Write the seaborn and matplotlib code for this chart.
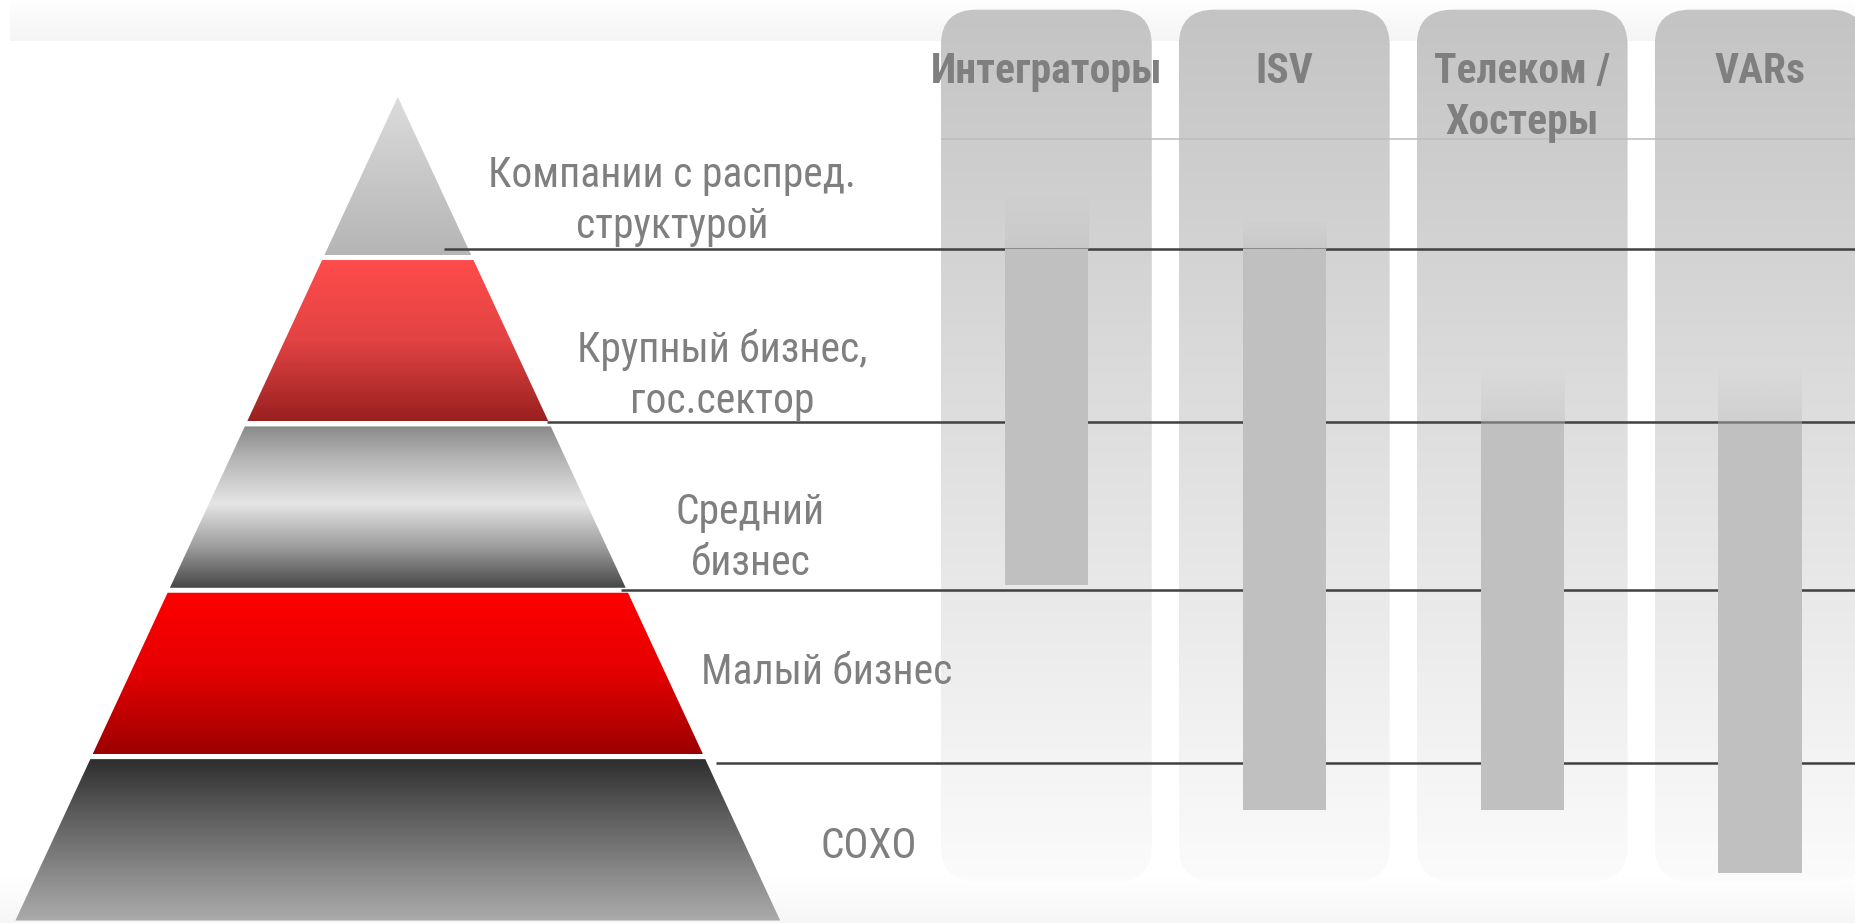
import numpy as np
import matplotlib
matplotlib.use("Agg")
import matplotlib.pyplot as plt
from matplotlib import font_manager
from matplotlib.colors import LinearSegmentedColormap, to_rgba
from matplotlib.patches import Polygon, FancyBboxPatch
import seaborn as sns
import pandas as pd

# ---------------- data ----------------
segments = ["Компании с распред.\nструктурой", "Крупный бизнес,\nгос.сектор",
            "Средний\nбизнес", "Малый бизнес", "СОХО"]
channels = ["Интеграторы", "ISV", "Телеком /\nХостеры", "VARs"]
# coverage of each channel along the segment axis (0 = pyramid top, 5 = pyramid base)
cover_from = [0.95, 0.95, 2.0, 2.0]
cover_to = [2.97, 4.32, 4.32, 4.70]
fade_from = [0.63, 0.78, 1.66, 1.66]

# ---------------- layout / style ----------------
label_x = [-1.572, -1.363, -1.244, -0.923, -0.746]
label_base = [0.576, 1.629, 2.603, 3.563, 4.609]
divider_y = [0.95, 1.99, 3.0, 4.04]
divider_x0 = [-2.532, -2.100, -1.786, -1.388]
level_grad = [
    ["#dcdcdc", "#c8c8c8", "#b5b5b5"],
    ["#ff4c4c", "#e24343", "#9a2020"],
    [(0, "#8a8a8a"), (0.2, "#b5b5b5"), (0.48, "#e5e5e5"), (0.75, "#9c9c9c"), (1, "#474747")],
    ["#ff0000", "#e40000", "#9c0000"],
    [(0, "#2e2e2e"), (0.35, "#5e5e5e"), (0.7, "#888888"), (1, "#ababab")],
]
TEXT_C = "#7f7f7f"
LINE_STEP = 0.306

X0, X1 = -4.398, 3.403
Y_TOP, Y_BOT = -0.548, 5.0
APEX_X, APEX_Y, SLOPE = -2.726, 0.035, 0.3247
GAP = 0.03

sns.set_theme(style="white")

# pick a condensed sans family if one is installed
names = {f.name for f in font_manager.fontManager.ttflist}
condensed = [f for f in ["Liberation Sans Narrow", "Roboto Condensed", "Arial Narrow",
                         "Open Sans Condensed", "Noto Sans Condensed", "DejaVu Sans Condensed"]
             if f in names]
stretch_fonts = [f for f in font_manager.fontManager.ttflist
                 if str(f.stretch) in ("condensed", "semi-condensed", "extra-condensed", "75", "87")
                 and "Sans" in f.name]
stretch = "normal"
if condensed:
    fam = [condensed[0], "Liberation Sans", "DejaVu Sans"]
    FS = 30
elif stretch_fonts:
    fam = [stretch_fonts[0].name, "Liberation Sans", "DejaVu Sans"]
    stretch = "condensed"
    FS = 30
else:
    fam = ["Liberation Sans", "DejaVu Sans"]
    FS = 26
plt.rcParams["font.family"] = fam
plt.rcParams["font.stretch"] = stretch

fig = plt.figure(figsize=(18.56, 9.23), dpi=100)
ax = fig.add_axes([0, 0, 1, 1])
ax.set_facecolor("white")


def vgrad(cmap, x0, x1, ytop, ybot, clip=None, z=1, n=256):
    arr = np.linspace(0, 1, n).reshape(-1, 1)
    im = ax.imshow(arr, cmap=cmap, extent=(x0, x1, ybot, ytop), origin="upper",
                   aspect="auto", interpolation="bilinear", zorder=z)
    if clip is not None:
        im.set_clip_path(clip)
    return im


def alpha_grad(color, x0, x1, ytop, ybot, a0, a1, z=4, n=128):
    rgba = np.zeros((n, 1, 4))
    rgba[..., :3] = to_rgba(color)[:3]
    rgba[:, 0, 3] = np.linspace(a0, a1, n)
    ax.imshow(rgba, extent=(x0, x1, ybot, ytop), origin="upper", aspect="auto",
              interpolation="bilinear", zorder=z)


# subtle background bands
vgrad(LinearSegmentedColormap.from_list("tb", ["#f5f5f5", "#f9f9f9", "#ffffff"]), X0 + 0.04, X1, -0.30, Y_TOP, z=0)
vgrad(LinearSegmentedColormap.from_list("bb", ["#ffffff", "#f6f6f6"]), X0, X1, 4.72, Y_BOT, z=0)

# channel columns (rounded-top panels with vertical gradient)
col_w = 0.886
col_top, col_bot = -0.49, 4.75
col_cmap = LinearSegmentedColormap.from_list("col", ["#c4c4c4", "#fbfbfb"])
for i, _ in enumerate(channels):
    patch = FancyBboxPatch((i - col_w / 2, col_top), col_w, col_bot - col_top,
                           boxstyle="round,pad=0,rounding_size=0.15",
                           mutation_aspect=1.42, fill=False, linewidth=0, zorder=1)
    ax.add_patch(patch)
    vgrad(col_cmap, i - col_w / 2, i + col_w / 2, col_top, col_bot, clip=patch, z=1)

# thin header separator
ax.hlines(0.285, -0.443, X1, color="#bdbdbd", linewidth=1.1, zorder=2)


# pyramid
def half_w(level):
    return SLOPE * (level - APEX_Y)


for k, seg in enumerate(segments):
    top = APEX_Y if k == 0 else k + GAP / 2
    bot = k + 1 - GAP / 2
    if k == 0:
        verts = [(APEX_X, top), (APEX_X + half_w(bot), bot), (APEX_X - half_w(bot), bot)]
    else:
        verts = [(APEX_X - half_w(top), top), (APEX_X + half_w(top), top),
                 (APEX_X + half_w(bot), bot), (APEX_X - half_w(bot), bot)]
    poly = Polygon(verts, closed=True, fill=False, linewidth=0, zorder=2)
    ax.add_patch(poly)
    cmap = LinearSegmentedColormap.from_list(f"lv{k}", level_grad[k])
    vgrad(cmap, APEX_X - half_w(bot), APEX_X + half_w(bot), top, bot, clip=poly, z=2)
    for j, line in enumerate(seg.split("\n")):
        ax.text(label_x[k], label_base[k] + j * LINE_STEP, line, ha="center", va="baseline",
                fontsize=FS, color=TEXT_C, zorder=6)

# divider lines between segments
for y, x0 in zip(divider_y, divider_x0):
    ax.hlines(y, x0, X1, color="#404040", linewidth=1.8, zorder=3)

# coverage bars
df = pd.DataFrame({"channel": channels,
                   "span": np.array(cover_to) - np.array(cover_from)})
sns.barplot(data=df, x="channel", y="span", order=channels, bottom=cover_from,
            width=0.35, color="#c0c0c0", saturation=1, errorbar=None,
            linewidth=0, zorder=4, ax=ax)
for i, (f0, c0) in enumerate(zip(fade_from, cover_from)):
    alpha_grad("#bdbdbd", i - 0.175, i + 0.175, f0, c0, 0.0, 0.45, z=4)

# channel headers
for i, ch in enumerate(channels):
    for j, line in enumerate(ch.split("\n")):
        ax.text(i, -0.05 + j * LINE_STEP, line, ha="center", va="baseline",
                fontsize=FS, fontweight="bold", color=TEXT_C, zorder=6)

ax.set_xlim(X0, X1)
ax.set_ylim(Y_BOT, Y_TOP)
ax.axis("off")

fig.savefig("out.png", dpi=100, facecolor="white")
